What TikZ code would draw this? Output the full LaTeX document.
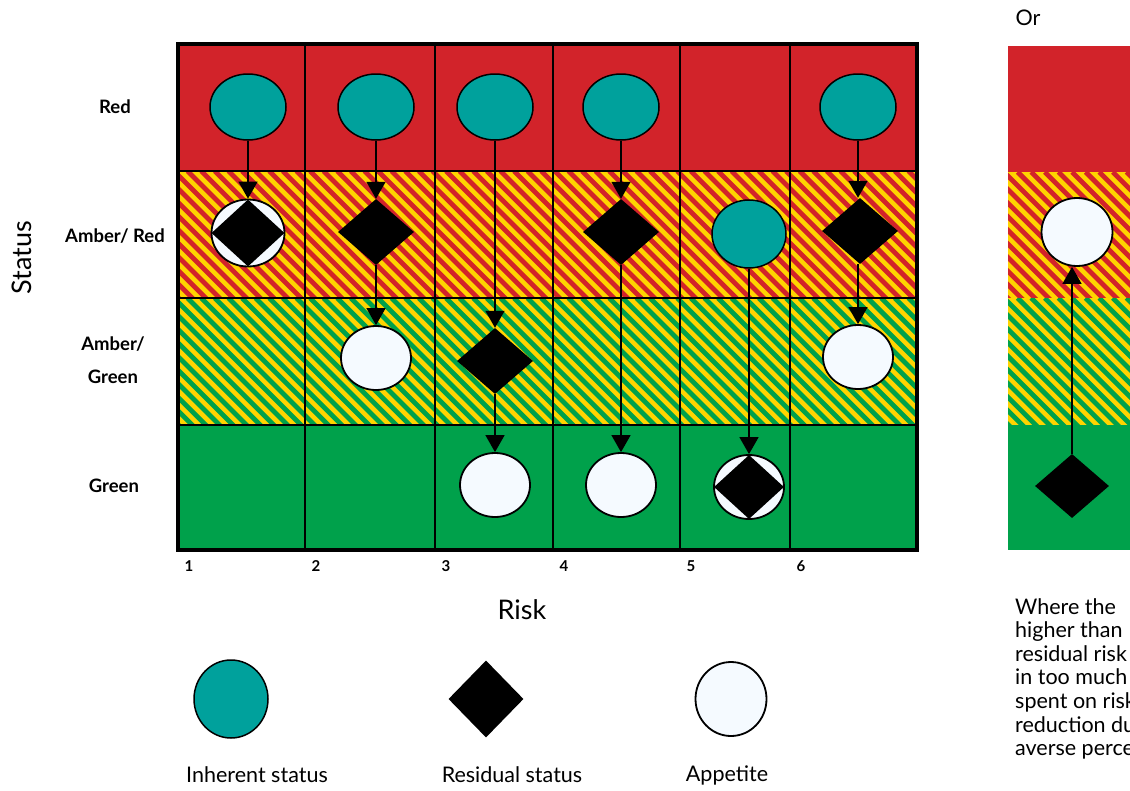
\documentclass[tikz,border=0pt]{standalone}
\usepackage{fontspec}
\setmainfont{Lato}
\usepackage{xcolor}
\usetikzlibrary{arrows.meta, shapes.geometric, positioning}
\definecolor{riskred}{HTML}{D2232A}
\definecolor{riskamber}{HTML}{FFD400}
\definecolor{riskgreen}{HTML}{00A14B}
\definecolor{riskteal}{HTML}{00A19C}
\definecolor{appwhite}{HTML}{F5FAFF}

\begin{document}
\begin{tikzpicture}[x=1pt, y=-1pt,
    inherent/.style={ellipse, draw=black, line width=1.5pt, fill=riskteal, minimum width=76pt, minimum height=66pt, inner sep=0pt},
    residual/.style={diamond, fill=black, minimum width=76pt, minimum height=66pt, inner sep=0pt},
    appetite/.style={ellipse, draw=black, line width=1.8pt, fill=appwhite, minimum width=70pt, minimum height=64pt, inner sep=0pt},
    flow/.style={-{Triangle[width=19pt,length=17pt]}, line width=1.5pt},
    rowlab/.style={font=\fontsize{18.5}{22}\selectfont\bfseries},
    numlab/.style={anchor=west, font=\fontsize{15}{18}\selectfont\bfseries},
    txt/.style={font=\fontsize{21.5}{23.6}\selectfont}]
    \useasboundingbox (0,0) rectangle (1130,790);
    \clip (0,0) rectangle (1130,790);

    % solid bands
    \fill[riskred] (178,44) rectangle (917,171);
    \fill[riskgreen] (178,425) rectangle (917,550);
    \fill[riskred] (1008,46) rectangle (1135,172);
    \fill[riskgreen] (1008,425) rectangle (1135,550);

    % striped bands
    \foreach \xa/\xb/\ya/\yb/\col in {178/917/171/298/riskred, 178/917/298/425/riskgreen,
        1008/1135/172/298/riskred, 1008/1135/298/425/riskgreen} {
      \begin{scope}
        \clip (\xa,\ya) rectangle (\xb,\yb);
        \fill[riskamber] (\xa,\ya) rectangle (\xb,\yb);
        \foreach \sx in {-140,-126.4,...,760}
          \draw[\col, line width=4.8pt] (\xa+\sx,\ya) -- ++(140,140);
      \end{scope}
    }

    % grid
    \foreach \gx in {435,553,680,790} \draw[line width=1.5pt] (\gx,44) -- (\gx,550);
    \draw[line width=2.8pt] (305,44) -- (305,550);
    \foreach \gy in {171,298,425} \draw[line width=1.2pt] (178,\gy) -- (917,\gy);
    \draw[line width=4pt] (178,44) rectangle (917,550);

    % column 1
    \node[inherent] (i1) at (248,107) {};
    \node[appetite, minimum width=73pt, minimum height=67pt] (a1) at (248,233) {};
    \node[residual, minimum width=73pt, minimum height=67pt] (r1) at (248,233) {};
    \draw[flow] (i1.south) -- (a1.north);

    % column 2
    \node[inherent] (i2) at (376,107) {};
    \node[residual] (r2) at (376,232) {};
    \node[appetite] (a2) at (376,358) {};
    \draw[flow] (i2.south) -- (r2.north);
    \draw[flow] (r2.south) -- (a2.north);

    % column 3
    \node[inherent] (i3) at (495,107) {};
    \node[residual] (r3) at (495,361) {};
    \node[appetite] (a3) at (495,485) {};
    \draw[flow] (i3.south) -- (r3.north);
    \draw[flow] (r3.south) -- (a3.north);

    % column 4
    \node[inherent] (i4) at (621,107) {};
    \node[residual] (r4) at (621,232) {};
    \node[appetite] (a4) at (621,485) {};
    \draw[flow] (i4.south) -- (r4.north);
    \draw[flow] (r4.south) -- (a4.north);

    % column 5
    \node[inherent, minimum height=68pt, minimum width=74pt] (i5) at (749,234) {};
    \node[appetite] (a5) at (749,487) {};
    \node[residual, minimum width=70pt, minimum height=64pt] (r5) at (749,487) {};
    \draw[flow] (i5.south) -- (a5.north);

    % column 6
    \node[inherent] (i6) at (858,107) {};
    \node[residual] (r6) at (860,231) {};
    \node[appetite] (a6) at (858,357) {};
    \draw[flow] (i6.south) -- (i6.south |- r6.north);
    \draw[flow] (i6.south |- r6.south) -- (a6.north);

    % right panel
    \node[appetite, minimum width=71pt, minimum height=68pt] (ra) at (1077,232) {};
    \node[residual, minimum width=74pt, minimum height=64pt] (rr) at (1072,486) {};
    \draw[flow] (rr.north) -- (rr.north |- ra.south);

    % axis labels
    \node[rowlab] (lred) at (115,107) {Red};
    \node[rowlab] (lar) at (115,236) {Amber/ Red};
    \node[rowlab] (lag1) at (113,344) {Amber/};
    \node[rowlab] (lag2) at (113,377) {Green};
    \node[rowlab] (lgr) at (114,486) {Green};
    \node[rotate=90, font=\fontsize{27}{30}\selectfont] (status) at (22,258) {Status};
    \node[font=\fontsize{27}{30}\selectfont] (risk) at (522,610) {Risk};
    \foreach \nx/\nl in {178/1, 305/2, 435/3, 553/4, 680/5, 790/6}
      \node[numlab] (n\nl) at (\nx+3,566) {\nl};

    % legend
    \node[inherent, minimum width=74pt, minimum height=78pt] (kinh) at (231,699) {};
    \node[residual, minimum width=75pt, minimum height=77pt] (kres) at (486,699) {};
    \node[appetite, minimum width=71pt, minimum height=74pt] (kapp) at (731,699) {};
    \node[txt] (tinh) at (257,775) {Inherent status};
    \node[txt] (tres) at (512,775) {Residual status};
    \node[txt] (tapp) at (727,775) {Appetite};

    % side note
    \node[txt, anchor=west] (tor) at (1012,18) {Or};
    \node[txt, anchor=north west, align=left, inner sep=0pt] (note) at (1015,598)
      {Where the\\higher than\\residual risk\\in too much\\spent on risk\\reduction due\\averse perception};
\end{tikzpicture}
\end{document}
